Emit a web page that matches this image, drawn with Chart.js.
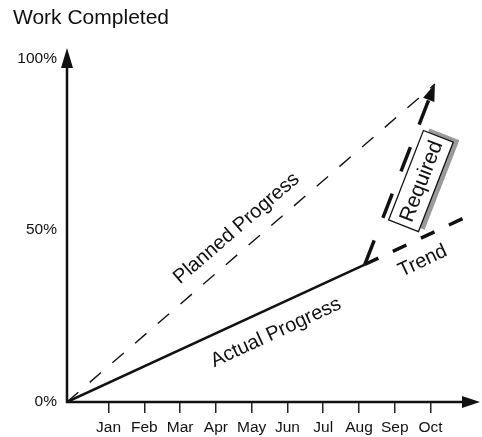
<!DOCTYPE html>
<html>
<head>
<meta charset="utf-8">
<title>Work Completed</title>
<script src="https://cdn.jsdelivr.net/npm/chart.js@4.4.1/dist/chart.umd.min.js"></script>
<style>
  html, body { margin: 0; padding: 0; background: #fff; }
  canvas { display: block; }
</style>
</head>
<body>
<canvas id="chart" width="482" height="437"></canvas>
<script>
// Chart text
const chartTitle = 'Work Completed';
const months = ['Jan', 'Feb', 'Mar', 'Apr', 'May', 'Jun', 'Jul', 'Aug', 'Sep', 'Oct'];
const monthTicks = [1, 2, 3, 4, 5, 6, 7, 8, 9, 10];
const yTicks = [0, 50, 100];

// x in months (Jan = 1), y in % of work completed
const plannedX = [-0.16, 10.12];
const plannedY = [0, 92.5];
const actualX = [-0.16, 8.16];
const actualY = [0, 40];
const trendX = [8.16, 11.29];
const trendY = [40, 55.3];
const requiredX = [8.16, 10.12];
const requiredY = [40, 92.5];

const FONT = '"Liberation Sans", Arial, Helvetica, sans-serif';
const INK = '#111';

function points(xs, ys) {
    return xs.map((x, i) => ({ x: x, y: ys[i] }));
}

function toPx(chart, x, y) {
    return [chart.scales.x.getPixelForValue(x), chart.scales.y.getPixelForValue(y)];
}

function angleOf(chart, xs, ys) {
    const a = toPx(chart, xs[0], ys[0]);
    const b = toPx(chart, xs[xs.length - 1], ys[ys.length - 1]);
    return Math.atan2(b[1] - a[1], b[0] - a[0]);
}

function arrowHead(ctx, x, y, angle, len, half) {
    ctx.save();
    ctx.translate(x, y);
    ctx.rotate(angle);
    ctx.beginPath();
    ctx.moveTo(0, 0);
    ctx.lineTo(-len, -half);
    ctx.lineTo(-len, half);
    ctx.closePath();
    ctx.fill();
    ctx.restore();
}

/**
 * Axis lines with arrow heads, and the title
 */
const axesPlugin = {
    id: 'axes',
    afterDraw(chart) {
        const ctx = chart.ctx;
        const area = chart.chartArea;
        ctx.save();
        ctx.strokeStyle = INK;
        ctx.fillStyle = INK;
        ctx.lineWidth = 2.5;
        ctx.beginPath();
        ctx.moveTo(area.left, area.top + 14);
        ctx.lineTo(area.left, area.bottom);
        ctx.lineTo(area.right - 14, area.bottom);
        ctx.stroke();
        arrowHead(ctx, area.left, area.top, -Math.PI / 2, 20, 6);
        arrowHead(ctx, area.right, area.bottom, 0, 18, 6);

        ctx.font = '21px ' + FONT;
        ctx.textBaseline = 'middle';
        ctx.textAlign = 'left';
        ctx.fillText(chartTitle, 13, 18);
        ctx.restore();
    }
};

/**
 * Text along the lines and the "Required" box
 */
const labelsPlugin = {
    id: 'lineLabels',
    afterDatasetsDraw(chart) {
        const ctx = chart.ctx;
        const labels = [
            { text: 'Planned Progress', x: 4.58, y: 50.5, xs: plannedX, ys: plannedY },
            { text: 'Actual Progress', x: 5.68, y: 20.2, xs: actualX, ys: actualY },
            { text: 'Trend', x: 9.78, y: 41.0, xs: trendX, ys: trendY }
        ];
        ctx.save();
        ctx.fillStyle = INK;
        ctx.font = '20px ' + FONT;
        ctx.textAlign = 'center';
        ctx.textBaseline = 'middle';
        labels.forEach(l => {
            const p = toPx(chart, l.x, l.y);
            ctx.save();
            ctx.translate(p[0], p[1]);
            ctx.rotate(angleOf(chart, l.xs, l.ys));
            ctx.fillText(l.text, 0, 0);
            ctx.restore();
        });

        // arrow head of the required line
        const n = requiredX.length - 1;
        const tip = toPx(chart, requiredX[n], requiredY[n]);
        arrowHead(ctx, tip[0], tip[1], angleOf(chart, requiredX, requiredY), 17, 6);

        // "Required" box
        const c = toPx(chart, 9.73, 64.3);
        const w = 96, h = 32;
        ctx.save();
        ctx.translate(c[0], c[1]);
        ctx.rotate(angleOf(chart, requiredX, requiredY));
        ctx.fillStyle = '#9a9a9a';
        ctx.fillRect(-w / 2 + 4, -h / 2 + 5, w, h);
        ctx.fillStyle = '#fff';
        ctx.fillRect(-w / 2, -h / 2, w, h);
        ctx.strokeStyle = INK;
        ctx.lineWidth = 1.3;
        ctx.strokeRect(-w / 2, -h / 2, w, h);
        ctx.fillStyle = INK;
        ctx.font = '21px ' + FONT;
        ctx.fillText('Required', 0, 1);
        ctx.restore();
        ctx.restore();
    }
};

function initChart() {
    const ctx = document.getElementById('chart').getContext('2d');
    new Chart(ctx, {
        type: 'line',
        data: {
            datasets: [
                {
                    label: 'Planned Progress',
                    data: points(plannedX, plannedY),
                    borderColor: INK,
                    borderWidth: 1.4,
                    borderDash: [15, 15]
                },
                {
                    label: 'Actual Progress',
                    data: points(actualX, actualY),
                    borderColor: INK,
                    borderWidth: 2.5
                },
                {
                    label: 'Trend',
                    data: points(trendX, trendY),
                    borderColor: INK,
                    borderWidth: 3.5,
                    borderDash: [15, 16]
                },
                {
                    label: 'Required',
                    data: points(requiredX, requiredY),
                    borderColor: INK,
                    borderWidth: 3.5,
                    borderDash: [26, 24]
                }
            ]
        },
        options: {
            responsive: false,
            animation: false,
            layout: { padding: { top: 48, right: 2, left: 0, bottom: 0 } },
            elements: {
                point: { radius: 0 },
                line: { tension: 0, borderCapStyle: 'butt' }
            },
            plugins: {
                legend: { display: false },
                tooltip: { enabled: false }
            },
            scales: {
                x: {
                    type: 'linear',
                    min: -0.16,
                    max: 11.38,
                    afterBuildTicks: scale => { scale.ticks = monthTicks.map(v => ({ value: v })); },
                    afterFit: scale => { scale.height = 35; },
                    grid: {
                        display: true,
                        drawOnChartArea: false,
                        drawTicks: true,
                        tickLength: 11,
                        color: '#222',
                        lineWidth: 1.5
                    },
                    border: { display: false },
                    ticks: {
                        callback: v => months[v - 1],
                        font: { size: 15.5, family: FONT },
                        color: INK,
                        padding: 5,
                        maxRotation: 0,
                        autoSkip: false
                    }
                },
                y: {
                    min: 0,
                    max: 103,
                    afterBuildTicks: scale => { scale.ticks = yTicks.map(v => ({ value: v })); },
                    afterFit: scale => { scale.width = 67; },
                    grid: { display: false, drawTicks: false },
                    border: { display: false },
                    ticks: {
                        callback: v => v + '%',
                        font: { size: 15.5, family: FONT },
                        color: INK,
                        padding: 10
                    }
                }
            }
        },
        plugins: [axesPlugin, labelsPlugin]
    });
}

document.addEventListener('DOMContentLoaded', initChart);
</script>
</body>
</html>
